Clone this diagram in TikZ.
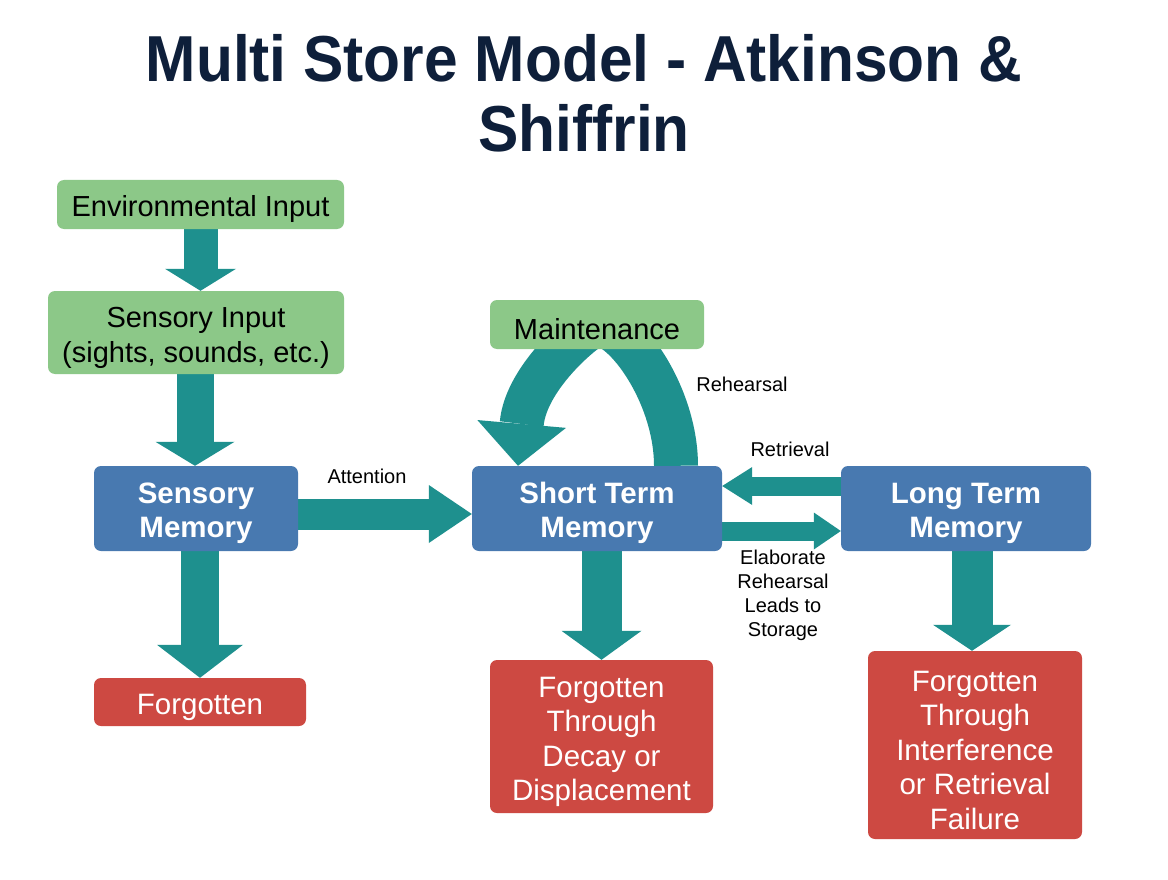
\documentclass[tikz,border=0pt]{standalone}
\usepackage{fontspec}
\setmainfont{Liberation Sans}
\newfontfamily\titlefont[FakeStretch=0.93]{Liberation Sans}
\usetikzlibrary{arrows.meta,backgrounds}
\definecolor{tealA}{RGB}{30,144,142}
\definecolor{greenA}{RGB}{140,200,136}
\definecolor{blueA}{RGB}{72,121,176}
\definecolor{redA}{RGB}{205,73,66}
\definecolor{navy}{RGB}{14,31,58}
\newcommand\myTS{\rule{0pt}{31pt}}
\begin{document}
\begin{tikzpicture}[x=1pt,y=-1pt,
  box/.style={rounded corners=7pt, inner sep=0pt, align=center},
  gbox/.style={box, fill=greenA, text=black, font=\fontsize{29}{35}\selectfont},
  bbox/.style={box, fill=blueA, text=white, font=\fontsize{29.5}{34}\selectfont\bfseries},
  rbox/.style={box, fill=redA, text=white, font=\fontsize{29.5}{34.5}\selectfont},
  lbl/.style={inner sep=0pt, align=center, font=\fontsize{20}{24}\selectfont},
  fat/.style={draw=tealA, line width=#1},
  tip/.style n args={2}{-{Triangle[width=#1,length=#2,line width=0pt,fill=tealA,color=tealA]}}
]
\useasboundingbox (0,0) rectangle (1168,880);

\node[anchor=north, inner sep=0pt, align=center, text=navy,
  font=\titlefont\bfseries\fontsize{65}{70}\selectfont] (title) at (584,34)
  {Multi Store Model - Atkinson \&\\Shiffrin};

\node[gbox, minimum width=287pt, minimum height=49pt] (env) at (200.5,204.5) {\myTS Environmental Input};
\node[gbox, minimum width=296pt, minimum height=83pt] (sens) at (196,332.5) {\myTS Sensory Input\\(sights, sounds, etc.)};
\node[bbox, minimum width=204pt, minimum height=85pt] (sm) at (196,508.5) {\myTS Sensory\\Memory};
\node[bbox, minimum width=250pt, minimum height=85pt] (stm) at (597,508.5) {\myTS Short Term\\Memory};
\node[gbox, minimum width=214pt, minimum height=49pt] (maint) at (597,324.5) {\myTS Maintenance};
\node[bbox, minimum width=250pt, minimum height=85pt] (ltm) at (966,508.5) {\myTS Long Term\\Memory};
\node[rbox, minimum width=212pt, minimum height=48pt] (f1) at (200,702) {\myTS Forgotten};
\node[rbox, minimum width=223pt, minimum height=153pt] (f2) at (601.5,736.5) {\myTS Forgotten\\Through\\Decay or\\Displacement};
\node[rbox, minimum width=214pt, minimum height=188pt] (f3) at (975,745) {\myTS Forgotten\\Through\\Interference\\or Retrieval\\Failure};

\node[lbl] (latt) at (367,476) {Attention};
\node[lbl] (lreh) at (742,384) {Rehearsal};
\node[lbl] (lret) at (790,449) {Retrieval};
\node[lbl] (lela) at (783,595) {Elaborate\\Rehearsal\\Leads to\\Storage};

\begin{pgfonlayer}{background}
\fill[white] (0,0) rectangle (1168,880);
\draw[fat=34pt, tip={71pt}{22pt}] (env.south) -- (env.south |- sens.north);
\draw[fat=37pt, tip={79pt}{24pt}] ([xshift=-1pt]sens.south) -- ([xshift=-1pt]sm.north);
\draw[fat=38pt, tip={86pt}{33pt}] (sm.south -| f1.north) -- (f1.north);
\draw[fat=31pt, tip={58pt}{43pt}] ([yshift=-5.5pt]sm.east) -- ([yshift=-5.5pt]stm.west);
\draw[fat=40pt, tip={80pt}{29pt}] (stm.south -| f2.north) -- (f2.north);
\draw[fat=41pt, tip={78pt}{26pt}] ([xshift=6pt]ltm.south) -- ([xshift=6pt]ltm.south |- f3.north);
\draw[fat=19pt, tip={38pt}{30pt}] ([yshift=22.5pt]ltm.west) -- ([yshift=22.5pt]stm.east);
\draw[fat=19pt, tip={37pt}{27pt}] ([yshift=-22.5pt]stm.east) -- ([yshift=-22.5pt]ltm.west);
\draw[fat=44pt, tip={89pt}{42pt}] ([xshift=79pt]stm.north)
  .. controls (676,395) and (625,324) .. (597,324)
  .. controls (590,324) and (526,375) .. ([xshift=-79pt]stm.north);
\end{pgfonlayer}
\end{tikzpicture}
\end{document}
